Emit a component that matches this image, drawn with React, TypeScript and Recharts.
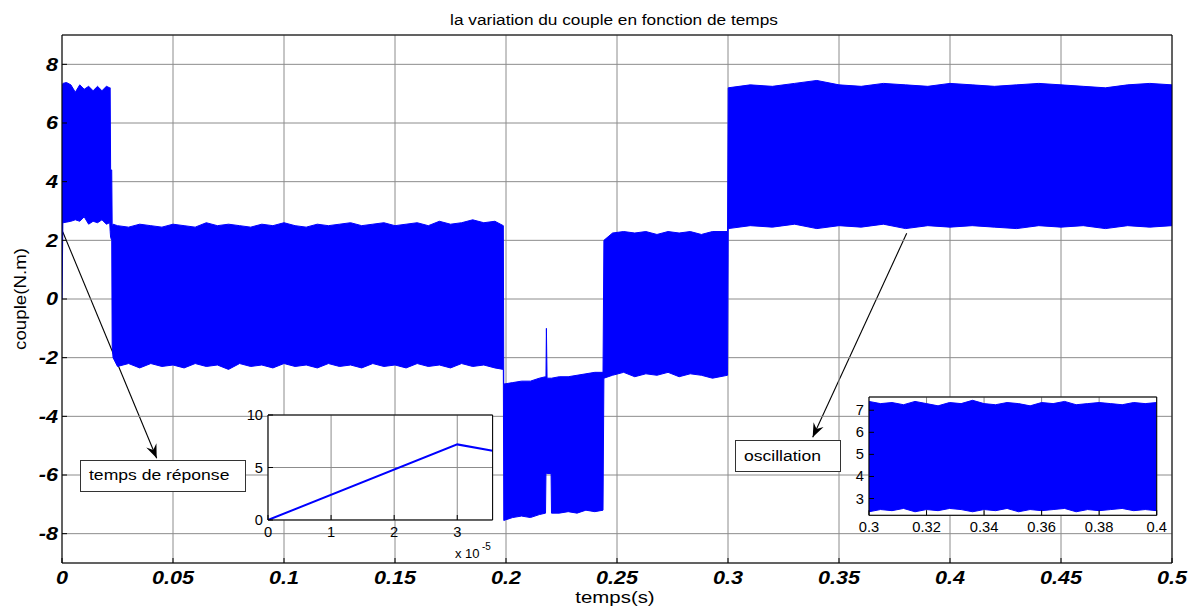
import React from 'react';
import { ComposedChart, Area, Line, XAxis, YAxis, CartesianGrid } from 'recharts';

const FONT = '"Liberation Sans", Arial, Helvetica, sans-serif';
const BLUE = '#0000ff';

// ---- main plot: envelope (min / max) of the oscillating torque ----
const mainTime = [
  0, 0.0004, 0.002, 0.004, 0.006, 0.008, 0.010, 0.012, 0.014, 0.016, 0.018, 0.020, 0.0215,
  0.0217, 0.0219, 0.0224, 0.0226, 0.023, 0.025,
  0.03, 0.035, 0.04, 0.045, 0.05, 0.055, 0.06, 0.065, 0.07, 0.075, 0.08, 0.085, 0.09, 0.095,
  0.1, 0.105, 0.11, 0.115, 0.12, 0.125, 0.13, 0.135, 0.14, 0.145, 0.15, 0.155, 0.16, 0.165,
  0.17, 0.175, 0.18, 0.185, 0.19, 0.195, 0.1988,
  0.199, 0.203, 0.207, 0.211, 0.215, 0.2178, 0.218, 0.2182, 0.2185, 0.2203, 0.2205,
  0.224, 0.228, 0.232, 0.236, 0.24, 0.2437,
  0.2441, 0.248, 0.253, 0.258, 0.263, 0.268, 0.273, 0.278, 0.283, 0.288, 0.293, 0.2998,
  0.3001, 0.31, 0.32, 0.33, 0.34, 0.35, 0.36, 0.37, 0.38, 0.39, 0.40, 0.41, 0.42, 0.43,
  0.44, 0.45, 0.46, 0.47, 0.48, 0.49, 0.5,
];
const mainLow = [
  0, 2.6, 2.62, 2.65, 2.7, 2.65, 2.8, 2.55, 2.65, 2.6, 2.7, 2.55, 2.6,
  2.3, 2.1, 2.0, -1.6, -2.0, -2.3,
  -2.2, -2.35, -2.2, -2.3, -2.25, -2.35, -2.2, -2.3, -2.25, -2.4, -2.2, -2.3, -2.25, -2.35,
  -2.2, -2.3, -2.25, -2.35, -2.2, -2.3, -2.25, -2.35, -2.2, -2.3, -2.25, -2.35, -2.2, -2.3,
  -2.25, -2.35, -2.2, -2.3, -2.25, -2.35, -2.4,
  -7.55, -7.45, -7.4, -7.45, -7.35, -7.3, -5.95, -5.95, -5.95, -5.95, -7.3,
  -7.3, -7.25, -7.3, -7.2, -7.25, -7.2,
  -2.7, -2.6, -2.5, -2.65, -2.55, -2.6, -2.5, -2.65, -2.55, -2.6, -2.7, -2.6,
  2.4, 2.5, 2.45, 2.55, 2.4, 2.5, 2.45, 2.55, 2.4, 2.5, 2.45, 2.5, 2.45, 2.4,
  2.5, 2.45, 2.5, 2.4, 2.5, 2.45, 2.5,
];
const mainHigh = [
  7.2, 7.35, 7.38, 7.3, 7.05, 7.3, 7.15, 7.25, 7.1, 7.25, 7.1, 7.25, 7.2,
  7.2, 4.4, 4.4, 2.5, 2.55, 2.5,
  2.45, 2.55, 2.5, 2.45, 2.55, 2.5, 2.45, 2.6, 2.5, 2.55, 2.5, 2.45, 2.55, 2.5,
  2.6, 2.5, 2.45, 2.55, 2.5, 2.55, 2.6, 2.5, 2.55, 2.6, 2.5, 2.55, 2.6, 2.5,
  2.65, 2.55, 2.6, 2.7, 2.6, 2.65, 2.5,
  -2.9, -2.85, -2.8, -2.8, -2.7, -2.65, -2.65, -1.0, -2.7, -2.7, -2.7,
  -2.65, -2.65, -2.6, -2.55, -2.5, -2.5,
  2.0, 2.25, 2.3, 2.25, 2.3, 2.2, 2.3, 2.25, 2.3, 2.2, 2.3, 2.3,
  7.2, 7.3, 7.25, 7.35, 7.45, 7.3, 7.25, 7.35, 7.3, 7.25, 7.35, 7.3, 7.25, 7.3,
  7.35, 7.3, 7.25, 7.2, 7.3, 7.35, 7.3,
];
const mainXTicks = [0, 0.05, 0.1, 0.15, 0.2, 0.25, 0.3, 0.35, 0.4, 0.45, 0.5];
const mainYTicks = [-8, -6, -4, -2, 0, 2, 4, 6, 8];

// ---- inset 1: start-up (time in units of 1e-5 s) ----
const startTime = [0, 3, 3.56];
const startTorque = [0, 7.2, 6.6];
const startXTicks = [0, 1, 2, 3];
const startYTicks = [0, 5, 10];

// ---- inset 2: zoom 0.3 .. 0.4 s ----
const zoomTime = [
  0.3, 0.304, 0.308, 0.312, 0.316, 0.32, 0.324, 0.328, 0.332, 0.336, 0.34, 0.344, 0.348,
  0.352, 0.356, 0.36, 0.364, 0.368, 0.372, 0.376, 0.38, 0.384, 0.388, 0.392, 0.396, 0.4,
];
const zoomHigh = [
  7.4, 7.3, 7.35, 7.25, 7.4, 7.3, 7.2, 7.35, 7.3, 7.45, 7.3, 7.25, 7.35,
  7.3, 7.2, 7.35, 7.3, 7.4, 7.25, 7.3, 7.35, 7.3, 7.25, 7.35, 7.3, 7.35,
];
const zoomLow = [
  2.4, 2.5, 2.45, 2.55, 2.4, 2.5, 2.45, 2.55, 2.5, 2.4, 2.5, 2.45, 2.55,
  2.4, 2.5, 2.45, 2.5, 2.55, 2.4, 2.5, 2.45, 2.5, 2.55, 2.45, 2.5, 2.45,
];
const zoomXTicks = [0.3, 0.32, 0.34, 0.36, 0.38, 0.4];
const zoomYTicks = [3, 4, 5, 6, 7];

const mainData = mainTime.map((t, i) => ({ t, range: [mainLow[i], mainHigh[i]] }));
const zoomData = zoomTime.map((t, i) => ({ t, range: [zoomLow[i], zoomHigh[i]] }));
const startData = startTime.map((t, i) => ({ t, v: startTorque[i] }));

type TickStyle = { fs: number; bold: boolean; sx: number };

const makeXTick = (st: TickStyle) => (props: any) => {
  const { x, y, payload } = props;
  return (
    <g>
      <text
        x={0}
        y={0}
        dy={st.fs * 0.72}
        transform={`translate(${x},${y}) scale(${st.sx},1)`}
        textAnchor="middle"
        fontFamily={FONT}
        fontSize={st.fs}
        fontWeight={st.bold ? 'bold' : 'normal'}
        fontStyle={st.bold ? 'italic' : 'normal'}
        fill="#000"
      >
        {String(payload.value)}
      </text>
    </g>
  );
};

const makeYTick = (st: TickStyle) => (props: any) => {
  const { x, y, payload } = props;
  return (
    <g>
      <text
        x={0}
        y={0}
        dy={st.fs * 0.36}
        transform={`translate(${x},${y}) scale(${st.sx},1)`}
        textAnchor="end"
        fontFamily={FONT}
        fontSize={st.fs}
        fontWeight={st.bold ? 'bold' : 'normal'}
        fontStyle={st.bold ? 'italic' : 'normal'}
        fill="#000"
      >
        {String(payload.value)}
      </text>
    </g>
  );
};

type PanelProps = {
  plotLeft: number;
  plotTop: number;
  plotW: number;
  plotH: number;
  xDomain: [number, number];
  yDomain: [number, number];
  xTicks: number[];
  yTicks: number[];
  data: any[];
  st: TickStyle;
  xMargin: number;
  yMargin: number;
  bg: boolean;
  children: React.ReactNode;
};

function Panel(p: PanelProps) {
  const mL = 50, mT = 10, mR = 30, mB = 50, ax = 10;
  const W = p.plotW + mL + mR + 2 * ax;
  const H = p.plotH + mT + mB + 2 * ax;
  return (
    <div style={{ position: 'absolute', left: p.plotLeft - mL - ax, top: p.plotTop - mT - ax, width: W, height: H }}>
      <ComposedChart width={W} height={H} data={p.data} margin={{ left: mL, top: mT, right: mR, bottom: mB }}>
        <CartesianGrid stroke="#8c8c8c" strokeWidth={1} fill={p.bg ? '#ffffff' : 'none'} fillOpacity={1} />
        <XAxis
          dataKey="t"
          type="number"
          domain={p.xDomain}
          ticks={p.xTicks}
          allowDataOverflow
          interval={0}
          height={ax}
          tickSize={-5}
          tickMargin={p.xMargin}
          stroke="#000"
          tick={makeXTick(p.st)}
        />
        <XAxis
          xAxisId="top"
          orientation="top"
          type="number"
          domain={p.xDomain}
          ticks={p.xTicks}
          allowDataOverflow
          interval={0}
          height={ax}
          tickSize={-5}
          stroke="#000"
          tick={false}
        />
        <YAxis
          type="number"
          domain={p.yDomain}
          ticks={p.yTicks}
          allowDataOverflow
          interval={0}
          width={ax}
          tickSize={-5}
          tickMargin={p.yMargin}
          stroke="#000"
          tick={makeYTick(p.st)}
        />
        <YAxis
          yAxisId="right"
          orientation="right"
          type="number"
          domain={p.yDomain}
          ticks={p.yTicks}
          allowDataOverflow
          interval={0}
          width={ax}
          tickSize={-5}
          stroke="#000"
          tick={false}
        />
        {p.children}
      </ComposedChart>
    </div>
  );
}

const arrows = [
  { x1: 62.7, y1: 231.7, x2: 156.7, y2: 458.3 },
  { x1: 906.7, y1: 233.3, x2: 812.7, y2: 437.3 },
];

function arrowHead(a: { x1: number; y1: number; x2: number; y2: number }) {
  const dx = a.x2 - a.x1, dy = a.y2 - a.y1;
  const len = Math.sqrt(dx * dx + dy * dy);
  const ux = dx / len, uy = dy / len;
  const nx = -uy, ny = ux;
  const L = 14, w = 5.5;
  const bx = a.x2 - L * ux, by = a.y2 - L * uy;
  const cx = a.x2 - 0.65 * L * ux, cy = a.y2 - 0.65 * L * uy;
  return `${a.x2},${a.y2} ${bx + w * nx},${by + w * ny} ${cx},${cy} ${bx - w * nx},${by - w * ny}`;
}

const textProps = { fontFamily: FONT, fill: '#000' };

export default function App() {
  const mainSt = { fs: 18, bold: true, sx: 1.2 };
  const insetSt = { fs: 14, bold: false, sx: 1.05 };
  return (
    <div style={{ position: 'absolute', left: 0, top: 0, width: 1203, height: 616, background: '#fff', overflow: 'hidden' }}>
      {/* arrows drawn beneath the main curve */}
      <svg width={1203} height={616} style={{ position: 'absolute', left: 0, top: 0 }}>
        {arrows.map((a, i) => (
          <g key={i}>
            <line x1={a.x1} y1={a.y1} x2={a.x2} y2={a.y2} stroke="#000" strokeWidth={1.1} />
            <polygon points={arrowHead(a)} fill="#000" />
          </g>
        ))}
      </svg>

      <Panel
        plotLeft={62}
        plotTop={35}
        plotW={1110}
        plotH={528}
        xDomain={[0, 0.5]}
        yDomain={[-9, 9]}
        xTicks={mainXTicks}
        yTicks={mainYTicks}
        data={mainData}
        st={mainSt}
        xMargin={13}
        yMargin={9}
        bg={false}
      >
        <Area
          type="linear"
          dataKey="range"
          stroke={BLUE}
          strokeWidth={1}
          fill={BLUE}
          fillOpacity={1}
          dot={false}
          activeDot={false}
          isAnimationActive={false}
        />
      </Panel>

      <Panel
        plotLeft={267.7}
        plotTop={415}
        plotW={224.6}
        plotH={105}
        xDomain={[0, 3.56]}
        yDomain={[0, 10]}
        xTicks={startXTicks}
        yTicks={startYTicks}
        data={startData}
        st={insetSt}
        xMargin={12}
        yMargin={10}
        bg={true}
      >
        <Line type="linear" dataKey="v" stroke={BLUE} strokeWidth={2} dot={false} activeDot={false} isAnimationActive={false} />
      </Panel>

      <Panel
        plotLeft={869}
        plotTop={396.7}
        plotW={287.7}
        plotH={118.3}
        xDomain={[0.3, 0.4]}
        yDomain={[2.24, 7.6]}
        xTicks={zoomXTicks}
        yTicks={zoomYTicks}
        data={zoomData}
        st={insetSt}
        xMargin={12}
        yMargin={10}
        bg={true}
      >
        <Area
          type="linear"
          dataKey="range"
          stroke={BLUE}
          strokeWidth={1}
          fill={BLUE}
          fillOpacity={1}
          dot={false}
          activeDot={false}
          isAnimationActive={false}
        />
      </Panel>

      {/* texts and annotation boxes */}
      <svg width={1203} height={616} style={{ position: 'absolute', left: 0, top: 0 }}>
        <text {...textProps} fontSize={15} textAnchor="middle" transform="translate(614,25) scale(1.15,1)">
          la variation du couple en fonction de temps
        </text>
        <text {...textProps} fontSize={17} textAnchor="middle" transform="translate(615,603) scale(1.2,1)">
          temps(s)
        </text>
        <text {...textProps} fontSize={16} textAnchor="middle" transform="translate(26,299) rotate(-90) scale(1.17,1)">
          couple(N.m)
        </text>

        <text {...textProps} fontSize={13} transform="translate(455,558)">x 10</text>
        <text {...textProps} fontSize={10} transform="translate(482,550)">-5</text>

        <rect x={80.5} y={460.5} width={165} height={31} fill="#fff" stroke="#333" strokeWidth={1} />
        <text {...textProps} fontSize={15} transform="translate(89,480) scale(1.17,1)">temps de réponse</text>

        <rect x={735.5} y={440.5} width={105} height={31} fill="#fff" stroke="#333" strokeWidth={1} />
        <text {...textProps} fontSize={15} transform="translate(744,461) scale(1.17,1)">oscillation</text>
      </svg>
    </div>
  );
}
